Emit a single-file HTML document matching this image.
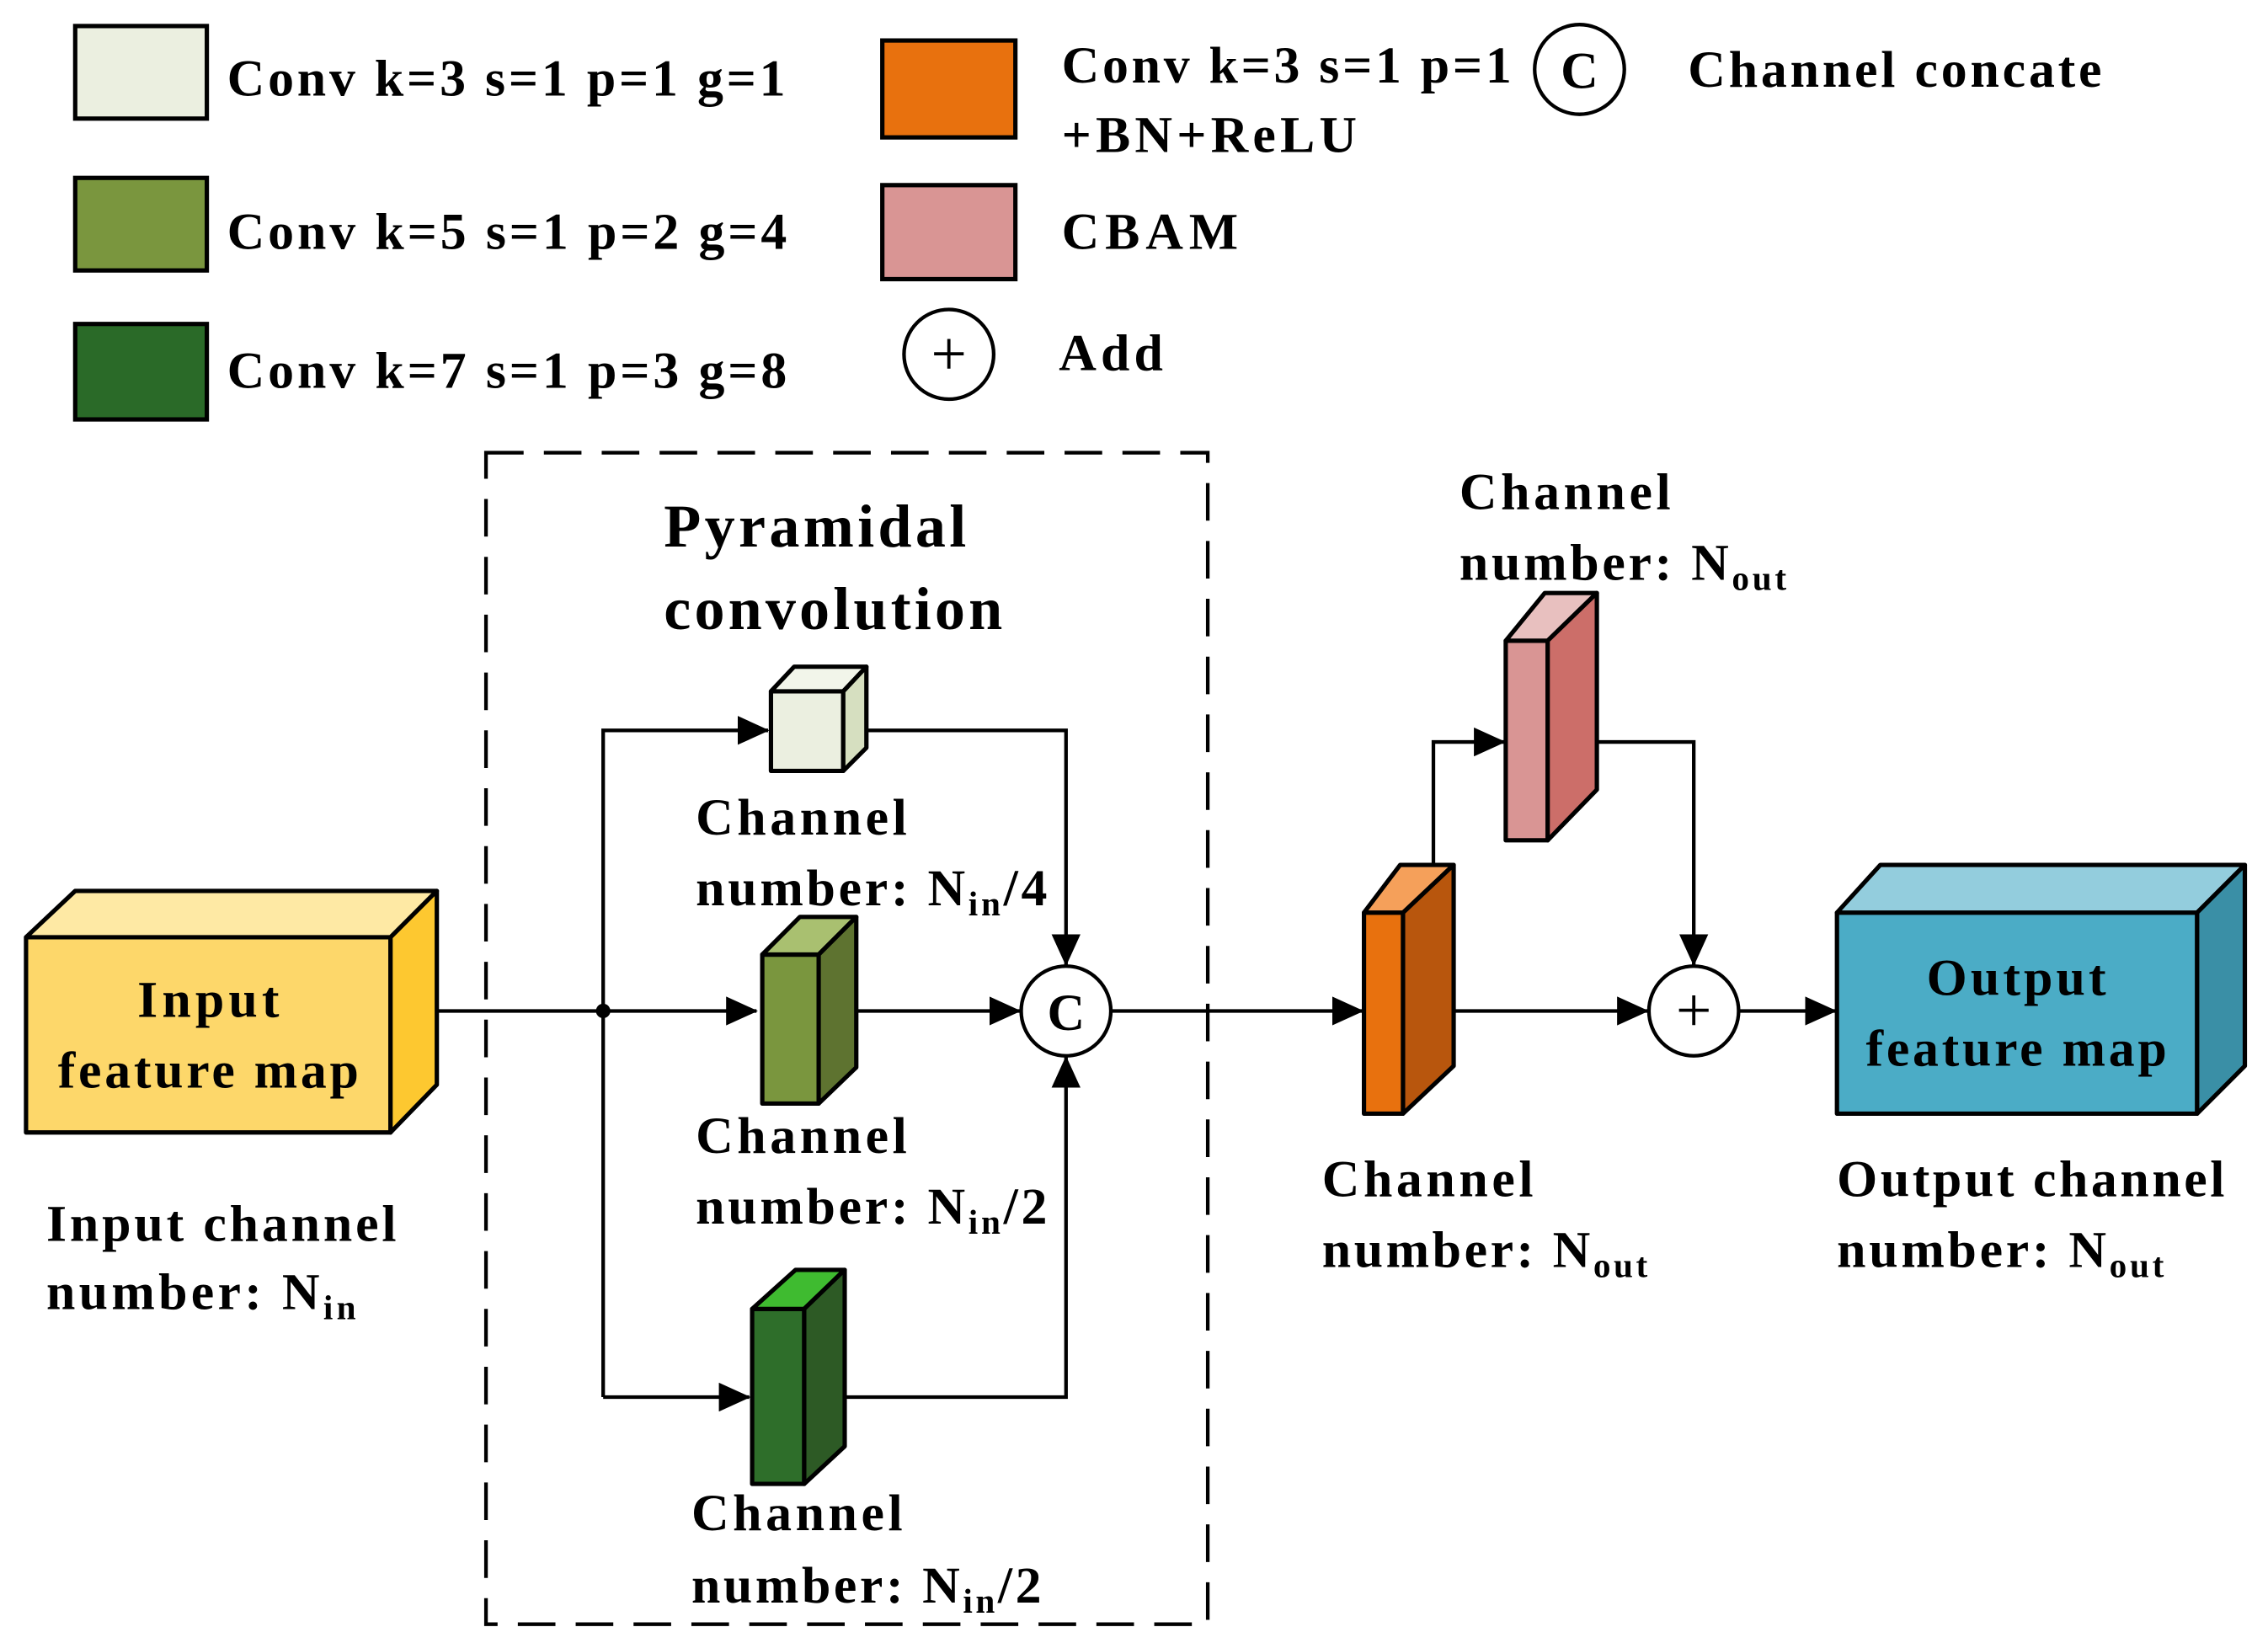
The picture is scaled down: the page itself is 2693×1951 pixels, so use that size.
<!DOCTYPE html>
<html><head><meta charset="utf-8"><style>html,body{margin:0;padding:0;background:#fff}svg{display:block}</style></head>
<body>
<svg width="2693" height="1951" viewBox="0 0 1568 1136" preserveAspectRatio="none" xmlns="http://www.w3.org/2000/svg">
<defs>
<marker id="a" markerWidth="22" markerHeight="20" refX="21" refY="10" orient="auto" markerUnits="userSpaceOnUse">
<path d="M0,0 L22,10 L0,20 Z" fill="#000"/></marker>
</defs>
<rect width="1568" height="1136" fill="#fff"/>
<g font-family="Liberation Serif, serif" font-weight="bold" font-size="36" fill="#000">
<!-- legend -->
<g stroke="#000" stroke-width="3">
<rect x="52" y="18" width="91" height="64" fill="#ebefe0"/>
<rect x="52" y="123" width="91" height="64" fill="#7a963e"/>
<rect x="52" y="224" width="91" height="66" fill="#2a6a28"/>
<rect x="610" y="28" width="92" height="67" fill="#e8710e"/>
<rect x="610" y="128" width="92" height="65" fill="#d99594"/>
<circle cx="1092" cy="48" r="31" fill="#fff" stroke-width="2.5"/>
<circle cx="656" cy="245" r="31" fill="#fff" stroke-width="2.5"/>
</g>
<text x="1092" y="61" text-anchor="middle" font-size="36">C</text>
<text x="656" y="259" text-anchor="middle" font-size="44" font-weight="normal">+</text>
<text x="157" y="66" textLength="386">Conv k=3 s=1 p=1 g=1</text>
<text x="157" y="172" textLength="387">Conv k=5 s=1 p=2 g=4</text>
<text x="157" y="268" textLength="387">Conv k=7 s=1 p=3 g=8</text>
<text x="734" y="57" textLength="311">Conv k=3 s=1 p=1</text>
<text x="734" y="105" textLength="204">+BN+ReLU</text>
<text x="1167" y="60" textLength="286">Channel concate</text>
<text x="734" y="172" textLength="122">CBAM</text>
<text x="732" y="256" textLength="72">Add</text>

<!-- dashed box -->
<rect x="336" y="313" width="499" height="810" fill="none" stroke="#000" stroke-width="2.5" stroke-dasharray="26,14"/>
<text x="459" y="378" font-size="42" textLength="209">Pyramidal</text>
<text x="459" y="435" font-size="42" textLength="234">convolution</text>

<!-- connectors -->
<g stroke="#000" stroke-width="2.5" fill="none">
<line x1="302" y1="699" x2="523" y2="699" marker-end="url(#a)"/>
<polyline points="417,966 417,505 531,505" marker-end="url(#a)"/>
<line x1="417" y1="966" x2="518" y2="966" marker-end="url(#a)"/>
<polyline points="599,505 737,505 737,667" marker-end="url(#a)"/>
<line x1="592" y1="699" x2="705" y2="699" marker-end="url(#a)"/>
<polyline points="584,966 737,966 737,731" marker-end="url(#a)"/>
<line x1="768" y1="699" x2="942" y2="699" marker-end="url(#a)"/>
<line x1="1005" y1="699" x2="1139" y2="699" marker-end="url(#a)"/>
<polyline points="991,600 991,513 1040,513" marker-end="url(#a)"/>
<polyline points="1104,513 1171,513 1171,667" marker-end="url(#a)"/>
<line x1="1202" y1="699" x2="1269" y2="699" marker-end="url(#a)"/>
</g>
<circle cx="417" cy="699" r="5" fill="#000"/>

<!-- blocks -->
<g stroke="#000" stroke-width="3" stroke-linejoin="round">
<rect x="18" y="648" width="252" height="135" fill="#fdd76a"/>
<polygon points="18,648 52,616 302,616 270,648" fill="#fee9a4"/>
<polygon points="270,648 302,616 302,750 270,783" fill="#fdc830"/>

<rect x="533" y="478" width="50" height="55" fill="#ebefe0"/>
<polygon points="533,478 549,461 599,461 583,478" fill="#f2f5ea"/>
<polygon points="583,478 599,461 599,517 583,533" fill="#d6dfc0"/>

<rect x="527" y="660" width="39" height="103" fill="#7a963e"/>
<polygon points="527,660 553,634 592,634 566,660" fill="#a9c070"/>
<polygon points="566,660 592,634 592,738 566,763" fill="#5e7330"/>

<rect x="520" y="905" width="36" height="121" fill="#2e6e2a"/>
<polygon points="520,905 550,878 584,878 556,905" fill="#3fbb30"/>
<polygon points="556,905 584,878 584,1000 556,1026" fill="#2d5a25"/>

<rect x="943" y="631" width="27" height="139" fill="#e8710e"/>
<polygon points="943,631 968,598 1005,598 970,631" fill="#f5a05a"/>
<polygon points="970,631 1005,598 1005,737 970,770" fill="#b8560d"/>

<rect x="1041" y="443" width="29" height="138" fill="#d99594"/>
<polygon points="1041,443 1068,410 1104,410 1070,443" fill="#e8c0bf"/>
<polygon points="1070,443 1104,410 1104,546 1070,581" fill="#cc6e69"/>

<rect x="1270" y="631" width="249" height="139" fill="#4bacc6"/>
<polygon points="1270,631 1300,598 1552,598 1519,631" fill="#93cddd"/>
<polygon points="1519,631 1552,598 1552,737 1519,770" fill="#3a8fa6"/>

<circle cx="737" cy="699" r="31" fill="#fff" stroke-width="2.5"/>
<circle cx="1171" cy="699" r="31" fill="#fff" stroke-width="2.5"/>
</g>
<text x="737" y="712" text-anchor="middle" font-size="36">C</text>
<text x="1171" y="713" text-anchor="middle" font-size="44" font-weight="normal">+</text>

<!-- labels -->
<text x="144" y="703" text-anchor="middle" font-size="36" textLength="98">Input</text>
<text x="144" y="752" text-anchor="middle" font-size="36" textLength="208">feature map</text>
<text x="1394" y="688" text-anchor="middle" font-size="36" textLength="124">Output</text>
<text x="1394" y="737" text-anchor="middle" font-size="36" textLength="208">feature map</text>

<text x="32" y="858" textLength="242">Input channel</text>
<text x="32" y="905" textLength="214">number: N<tspan font-size="24" dy="7">in</tspan></text>

<text x="481" y="577" textLength="146">Channel</text>
<text x="481" y="626" textLength="243">number: N<tspan font-size="24" dy="7">in</tspan><tspan dy="-7">/4</tspan></text>
<text x="481" y="797" textLength="146">Channel</text>
<text x="481" y="846" textLength="243">number: N<tspan font-size="24" dy="7">in</tspan><tspan dy="-7">/2</tspan></text>
<text x="478" y="1058" textLength="146">Channel</text>
<text x="478" y="1108" textLength="242">number: N<tspan font-size="24" dy="7">in</tspan><tspan dy="-7">/2</tspan></text>

<text x="1009" y="352" textLength="146">Channel</text>
<text x="1009" y="401" textLength="226">number: N<tspan font-size="24" dy="7">out</tspan></text>
<text x="914" y="827" textLength="146">Channel</text>
<text x="914" y="876" textLength="225">number: N<tspan font-size="24" dy="7">out</tspan></text>
<text x="1270" y="827" textLength="268">Output channel</text>
<text x="1270" y="876" textLength="226">number: N<tspan font-size="24" dy="7">out</tspan></text>
</g>
</svg>
</body></html>
